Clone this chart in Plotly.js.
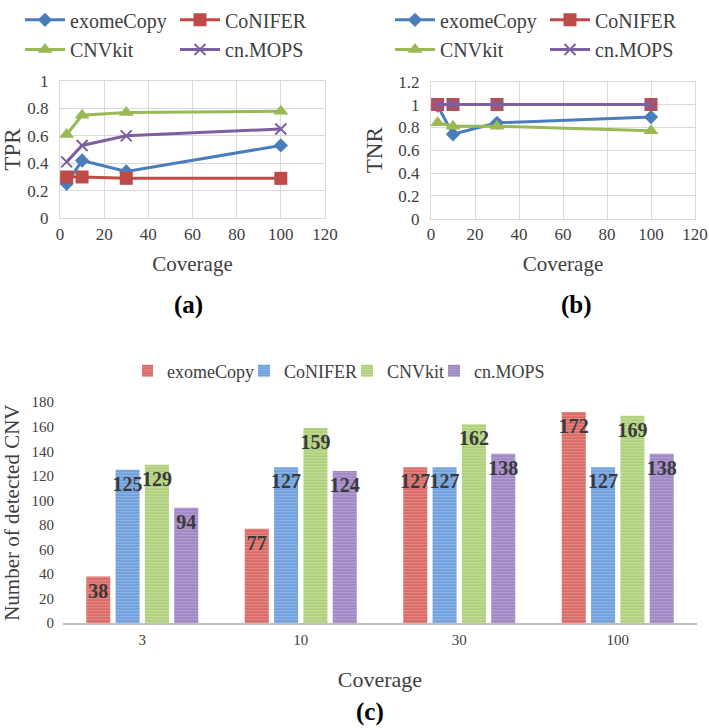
<!DOCTYPE html>
<html>
<head>
<meta charset="utf-8">
<script src="https://cdn.plot.ly/plotly-3.0.1.min.js"></script>
<style>
  html, body { margin:0; padding:0; background:#fff; }
  #chart { width:709px; height:728px; }
</style>
</head>
<body>
<div id="chart"></div>
<script>
const coverage = [3, 10, 30, 100];
const coverageCats = ['3', '10', '30', '100'];
const tools = ['exomeCopy', 'CoNIFER', 'CNVkit', 'cn.MOPS'];

// (a) true positive rate
const tprExomeCopy = [0.25, 0.42, 0.34, 0.53];
const tprConifer   = [0.30, 0.30, 0.29, 0.29];
const tprCnvkit    = [0.61, 0.75, 0.77, 0.78];
const tprCnMops    = [0.41, 0.53, 0.60, 0.65];

// (b) true negative rate
const tnrExomeCopy = [0.99, 0.74, 0.84, 0.89];
const tnrConifer   = [1.00, 1.00, 1.00, 1.00];
const tnrCnvkit    = [0.84, 0.81, 0.81, 0.77];
const tnrCnMops    = [1.00, 1.00, 1.00, 1.00];

// (c) number of detected CNV
const cnvExomeCopy = [38, 77, 127, 172];
const cnvConifer   = [125, 127, 127, 127];
const cnvCnvkit    = [129, 159, 162, 169];
const cnvCnMops    = [94, 124, 138, 138];

const serif = 'Liberation Serif, serif';
const W = 709, H = 728;
const px = v => v / W;
const py = v => 1 - v / H;

const lineColors = ['#4a7ebb', '#be4b48', '#98b954', '#7d60a0'];
const barColors  = ['#d96a66', '#6f9fdc', '#afd07a', '#9f86c4'];
const barStripes = ['#e68f8b', '#93b8e6', '#c6de9c', '#b7a3d3'];
const symbols = ['diamond', 'square', 'triangle-up', 'x-thin-open'];
const sizes = [11, 13, 13, 11];

function lineTrace(i, y, xa, ya, leg){
  return {
    type:'scatter', mode:'lines+markers',
    name:tools[i], x:coverage, y:y, xaxis:xa, yaxis:ya, legend:leg,
    line:{color:lineColors[i], width:3},
    marker:{symbol:symbols[i], size:sizes[i], color:lineColors[i],
            line:{width: i===3 ? 2 : 0, color:lineColors[i]}}
  };
}

const tpr = [tprExomeCopy, tprConifer, tprCnvkit, tprCnMops];
const tnr = [tnrExomeCopy, tnrConifer, tnrCnvkit, tnrCnMops];
const cnv = [cnvExomeCopy, cnvConifer, cnvCnvkit, cnvCnMops];

const traces = [];
tpr.forEach((y,i) => traces.push(lineTrace(i, y, 'x', 'y', i < 2 ? 'legend' : 'legend2')));
tnr.forEach((y,i) => traces.push(lineTrace(i, y, 'x2', 'y2', i < 2 ? 'legend3' : 'legend4')));
cnv.forEach((y,i) => traces.push({
  type:'bar', name:tools[i], x:coverageCats, y:y, xaxis:'x3', yaxis:'y3', legend:'legend5',
  text:y.map(String), textposition:'inside', insidetextanchor:'end', constraintext:'none',
  textangle:0,
  textfont:{family:serif, size:20, color:'#3a3a3a', weight:'bold'},
  marker:{color:barColors[i], line:{width:0},
          pattern:{shape:'-', fgcolor:barStripes[i], bgcolor:barColors[i], size:3, solidity:0.35}},
  hoverinfo:'x+y+name'
}));

const tickFont = {family:serif, size:17, color:'#404040'};
function lineXAxis(dom){
  return {domain:dom, range:[0,120], dtick:20, showgrid:true, gridcolor:'#d9d9d9',
    showline:true, linecolor:'#d9d9d9', mirror:true, zeroline:false, ticks:'',
    tickfont:tickFont, ticklabelstandoff:0,
    title:{text:'Coverage', font:{family:serif, size:21, color:'#404040'}, standoff:13}};
}
function lineYAxis(dom, max, title){
  return {domain:dom, range:[0,max], dtick:0.2, showgrid:true, gridcolor:'#d9d9d9',
    showline:true, linecolor:'#d9d9d9', mirror:true, zeroline:false, ticks:'',
    tickfont:tickFont, ticklabelstandoff:7,
    title:{text:title, font:{family:serif, size:23, color:'#404040'}, standoff:9}};
}
function legendRow(x, y){
  return {orientation:'h', x:x, y:y, xanchor:'left', yanchor:'middle',
    font:{family:serif, size:20, color:'#404040'}, bgcolor:'rgba(0,0,0,0)',
    itemwidth:40, entrywidth:100, entrywidthmode:'pixels', itemclick:false};
}

const layout = {
  width:W, height:H,
  margin:{l:0, r:0, t:0, b:0},
  paper_bgcolor:'#fff', plot_bgcolor:'#fff',
  showlegend:true,
  barmode:'group', bargap:0.26, bargroupgap:0.18,
  xaxis: lineXAxis([px(60), px(325)]),
  yaxis: lineYAxis([py(211), py(72)], 1, 'TPR'),
  xaxis2: Object.assign(lineXAxis([px(431), px(695)]), {anchor:'y2'}),
  yaxis2: Object.assign(lineYAxis([py(211.7), py(72.7)], 1.2, 'TNR'), {anchor:'x2'}),
  xaxis3: {domain:[px(63), px(697)], anchor:'y3', type:'category', categoryorder:'array',
    categoryarray:coverageCats, showline:true, linecolor:'#bfbfbf', linewidth:2,
    showgrid:false, zeroline:false, ticks:'', tickfont:{family:serif, size:15, color:'#404040'},
    ticklabelstandoff:2,
    title:{text:'Coverage', font:{family:serif, size:22, color:'#404040'}, standoff:24}},
  yaxis3: {domain:[py(621.7), py(397.7)], anchor:'x3', range:[0,180], dtick:20,
    showgrid:false, showline:false, zeroline:false, ticks:'',
    tickfont:{family:serif, size:15, color:'#404040'}, ticklabelstandoff:8,
    title:{text:'Number of detected CNV', font:{family:serif, size:21, color:'#404040'}, standoff:10}},
  legend:  legendRow(px(20), py(10)),
  legend2: legendRow(px(20), py(40)),
  legend3: legendRow(px(390), py(10)),
  legend4: legendRow(px(390), py(40)),
  legend5: {orientation:'h', x:px(346), y:py(366), xanchor:'center', yanchor:'middle',
    font:{family:serif, size:18, color:'#404040'}, indentation:-15, itemclick:false},
  annotations:[
    {text:'<b>(a)</b>', x:px(189), y:py(299), xref:'paper', yref:'paper', showarrow:false,
     xanchor:'center', yanchor:'middle', font:{family:serif, size:25, color:'#000'}},
    {text:'<b>(b)</b>', x:px(576), y:py(299), xref:'paper', yref:'paper', showarrow:false,
     xanchor:'center', yanchor:'middle', font:{family:serif, size:25, color:'#000'}},
    {text:'<b>(c)</b>', x:px(370), y:py(712), xref:'paper', yref:'paper', showarrow:false,
     xanchor:'center', yanchor:'middle', font:{family:serif, size:25, color:'#000'}}
  ]
};

Plotly.newPlot('chart', traces, layout, {displayModeBar:false, responsive:false});
</script>
</body>
</html>
